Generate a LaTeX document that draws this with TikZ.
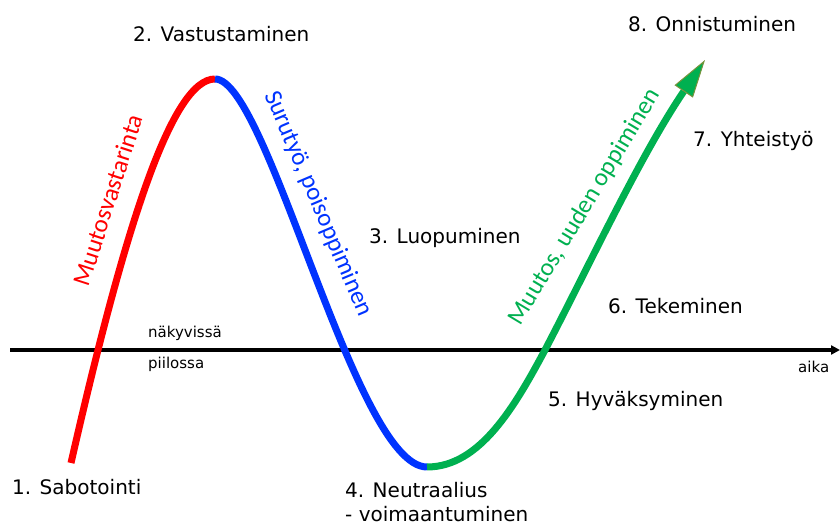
\documentclass[tikz,border=0pt]{standalone}
\usepackage{fontspec}
\setmainfont{DejaVu Sans}
\newfontfamily\curvefont{Carlito}
\usetikzlibrary{arrows.meta}
\definecolor{curvered}{RGB}{255,0,0}
\definecolor{curveblue}{RGB}{0,51,255}
\definecolor{curvegreen}{RGB}{0,176,80}
\definecolor{headedge}{RGB}{119,147,60}
\tikzset{
	phase/.style={anchor=base west, inner sep=0pt, font=\fontsize{20}{24}\selectfont},
	side/.style={anchor=base west, inner sep=0pt, font=\fontsize{15}{18}\selectfont},
	curvelabel/.style={inner sep=0pt, font=\curvefont\fontsize{25}{30}\selectfont},
	wave/.style={line width=7pt}
}

\begin{document}
\begin{tikzpicture}[x=1pt, y=1pt]
		\useasboundingbox (0, 0) rectangle (840, 526);
		\draw[line width=3.2pt, -{Triangle[length=9pt, width=9pt]}] (10, 176) -- (840, 176);
		
		\draw[wave, color=curvered] (71, 63) .. controls (125, 300) and (172, 447) .. (215, 447);
		\draw[wave, color=curveblue] (215, 447) .. controls (268, 447) and (355, 59) .. (427, 59);
		\draw[wave, color=curvegreen, -{Triangle[length=38pt, width=22pt, line width=1pt, color=headedge, fill=curvegreen]}]
			(427, 59) .. controls (480, 59) and (515, 120) .. (545, 176)
			.. controls (590, 262) and (640, 370) .. (705, 466);
		
		\node[curvelabel, color=curvered, rotate=72] (resist) at (108, 326) {Muutosvastarinta};
		\node[curvelabel, color=curveblue, rotate=-67] (grief) at (318, 322) {Surutyö, poisoppiminen};
		\node[curvelabel, color=curvegreen, rotate=59] (learn) at (585, 319) {Muutos, uuden oppiminen};
		
		\node[phase] (sabotage) at (12, 31) {1. Sabotointi};
		\node[phase] (resistance) at (133, 484) {2. Vastustaminen};
		\node[phase] (letgo) at (369, 282) {3. Luopuminen};
		\node[phase] (neutral) at (345, 28) {4. Neutraalius};
		\node[phase] (empower) at (345, 4) {- voimaantuminen};
		\node[phase] (accept) at (548, 119) {5. Hyväksyminen};
		\node[phase] (doing) at (608, 212) {6. Tekeminen};
		\node[phase] (together) at (693, 379) {7. Yhteistyö};
		\node[phase] (success) at (628, 494) {8. Onnistuminen};
		
		\node[side] (visible) at (148, 188) {näkyvissä};
		\node[side] (hidden) at (148, 157) {piilossa};
		\node[side] (time) at (798, 153) {aika};
	\end{tikzpicture}
\end{document}
